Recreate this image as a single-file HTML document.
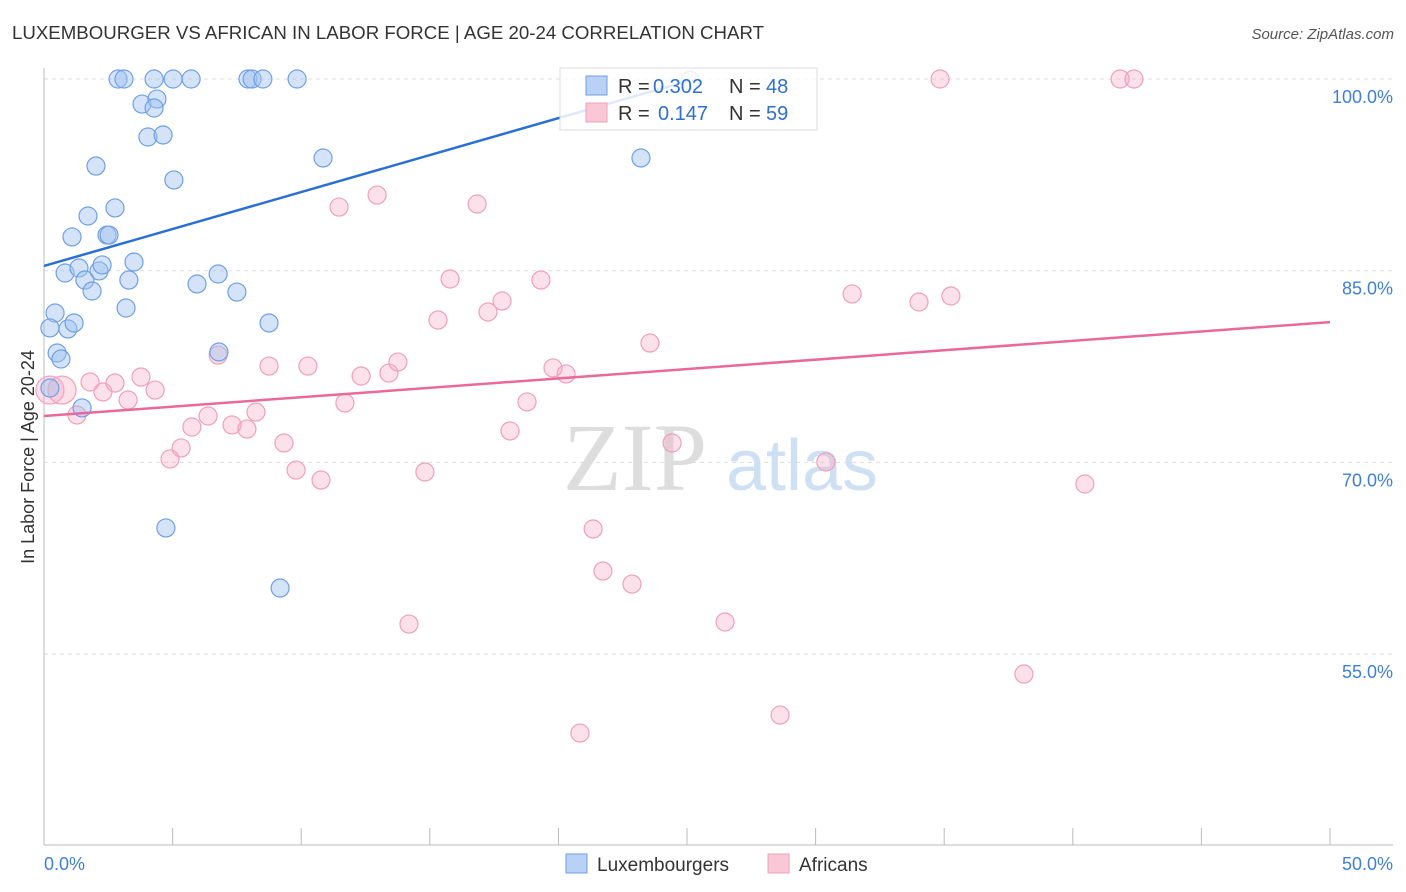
<!DOCTYPE html>
<html><head><meta charset="utf-8"><style>
body{margin:0;background:#fff;font-family:"Liberation Sans",sans-serif;}
svg{display:block}
</style></head><body>
<svg id="chart" width="1406" height="892">
<text x="12" y="39" font-size="18" fill="#333" textLength="752" lengthAdjust="spacingAndGlyphs">LUXEMBOURGER VS AFRICAN IN LABOR FORCE | AGE 20-24 CORRELATION CHART</text>
<text x="1394" y="39" font-size="15" fill="#555" text-anchor="end" font-style="italic">Source: ZipAtlas.com</text>
<text transform="translate(34,457) rotate(-90)" font-size="18" fill="#333" text-anchor="middle">In Labor Force | Age 20-24</text>
<g><text x="635" y="490" font-size="96" fill="#ddd" font-family="Liberation Serif,serif" text-anchor="middle">ZIP</text><text x="802" y="490" font-size="72" fill="#cfe0f5" text-anchor="middle">atlas</text></g>
<g id="grid"></g><g id="axes"></g><g id="pts"></g><g id="lines"></g>
<g>
<rect x="560" y="68" width="257" height="62" fill="rgba(255,255,255,0.85)" stroke="#ddd"/>
<rect x="586" y="76" width="21" height="19" fill="#b8d1f5" stroke="#6fa0e6"/>
<rect x="586" y="103" width="21" height="19" fill="#f9c7d6" stroke="#f0a0b8"/>
<text x="618" y="93" font-size="20" fill="#333">R =</text><text x="653" y="93" font-size="20" fill="#2f6fd0">0.302</text>
<text x="729" y="93" font-size="20" fill="#333">N =</text><text x="766" y="93" font-size="20" fill="#2f6fd0">48</text>
<text x="618" y="120" font-size="20" fill="#333">R =</text><text x="658" y="120" font-size="20" fill="#2f6fd0">0.147</text>
<text x="729" y="120" font-size="20" fill="#333">N =</text><text x="766" y="120" font-size="20" fill="#2f6fd0">59</text>
</g>
<g>
<rect x="566" y="854" width="21" height="19" fill="#b8d1f5" stroke="#6fa0e6"/><text x="597" y="871" font-size="19" fill="#333">Luxembourgers</text>
<rect x="768" y="854" width="21" height="19" fill="#f9c7d6" stroke="#f0a0b8"/><text x="799" y="871" font-size="19" fill="#333">Africans</text>
</g>
</svg>
<script>
const yTicks=[100,85,70,55];
const xTickLabels=["0.0%","50.0%"];
const blueX=[2.88,3.11,4.28,5.02,5.72,7.93,8.09,8.51,9.84,3.81,4.39,4.28,4.04,4.63,2.02,5.05,10.85,23.21,1.71,2.76,1.09,2.45,2.53,0.82,1.36,2.14,2.26,3.50,1.59,1.87,3.30,5.95,6.77,7.50,3.19,0.43,0.23,0.93,1.17,8.75,0.51,0.66,6.80,0.23,1.48,4.74,9.18,25.12];
const blueY=[100,100,100,100,100,100,100,100,100,98.04,98.43,97.73,95.46,95.62,93.19,92.10,93.82,93.82,89.28,89.91,87.64,87.79,87.79,84.82,85.21,84.98,85.45,85.68,84.27,83.41,84.27,83.96,84.74,83.33,82.08,81.69,80.52,80.44,80.91,80.91,78.56,78.09,78.64,75.82,74.26,64.87,60.17,99.9];
const pinkX=[0.23,0.70,1.28,1.79,2.29,2.76,3.27,3.77,4.32,4.90,5.33,5.75,6.38,6.77,7.31,7.89,8.24,8.75,9.33,9.80,10.26,10.77,11.47,11.70,12.33,12.95,13.41,13.76,14.19,14.81,15.32,15.79,16.84,17.26,17.81,18.12,18.78,19.32,19.79,20.30,20.84,21.35,21.73,22.86,23.56,24.42,26.48,28.62,30.40,31.42,34.02,34.84,35.26,38.10,40.47,41.84,42.38];
const pinkY=[75.66,75.66,73.71,76.29,75.51,76.21,74.88,76.68,75.66,70.27,71.13,72.77,73.63,78.40,72.93,72.61,73.94,77.54,71.52,69.40,77.54,68.62,89.98,74.65,76.76,90.92,76.99,77.85,57.35,69.25,81.14,84.35,90.22,81.77,82.63,72.46,74.73,84.27,77.39,76.92,48.82,64.79,61.50,60.48,79.34,71.52,57.51,50.23,70.03,83.18,82.55,100,83.02,53.44,68.31,100,100];
const pinkR=[14,14];
const blueTrend=[85.37,99.9], blueTrendX=[0,25.12];
const pinkTrend=[73.63,80.98], pinkTrendX=[0,50];
const X=v=>44+v*1286/50, Y=v=>79+(100-v)*191.7/15;
const NS="http://www.w3.org/2000/svg";
function mk(t,a,p){const e=document.createElementNS(NS,t);for(const k in a)e.setAttribute(k,a[k]);p.appendChild(e);return e;}
const grid=document.getElementById('grid'),axes=document.getElementById('axes'),pts=document.getElementById('pts'),lines=document.getElementById('lines');
yTicks.forEach(t=>{
 const l=mk('line',{x1:44,x2:1393,y1:Y(t),y2:Y(t),stroke:'#ddd','stroke-dasharray':'4,4'},grid);
 
 
 const tx=mk('text',{x:1393,y:Y(t)+24,'font-size':18,fill:'#3f7fd8','text-anchor':'end'},grid);tx.textContent=t.toFixed(1)+'%';
 
 
});
mk('line',{x1:44,x2:44,y1:68,y2:845,stroke:'#bbb'},axes);
mk('line',{x1:44,x2:1393,y1:845,y2:845,stroke:'#bbb'},axes);
for(let i=1;i<=10;i++){mk('line',{x1:X(i*5),x2:X(i*5),y1:828,y2:845,stroke:'#bbb'},axes);}
const xl0=mk('text',{x:44,y:870,'font-size':18,fill:'#3f7fd8'},axes);xl0.textContent=xTickLabels[0];


const xl1=mk('text',{x:1393,y:870,'font-size':18,fill:'#3f7fd8','text-anchor':'end'},axes);xl1.textContent=xTickLabels[1];


pinkX.forEach((v,i)=>{const c=mk('circle',{cx:X(v),cy:Y(pinkY[i]),r:pinkR[i]||9,fill:'rgba(246,170,195,0.35)',stroke:'#f0a0b8','stroke-width':1.2},pts);
 
 });
blueX.forEach((v,i)=>{const c=mk('circle',{cx:X(v),cy:Y(blueY[i]),r:9,fill:'rgba(160,192,240,0.45)',stroke:'#6fa0e6','stroke-width':1.2},pts);
 
 });
const bl=mk('line',{x1:X(blueTrendX[0]),y1:Y(blueTrend[0]),x2:X(blueTrendX[1]),y2:Y(blueTrend[1]),stroke:'#2b6fd6','stroke-width':2.5},lines);


const pl=mk('line',{x1:X(pinkTrendX[0]),y1:Y(pinkTrend[0]),x2:X(pinkTrendX[1]),y2:Y(pinkTrend[1]),stroke:'#e8699a','stroke-width':2.5},lines);


</script>
</body></html>
